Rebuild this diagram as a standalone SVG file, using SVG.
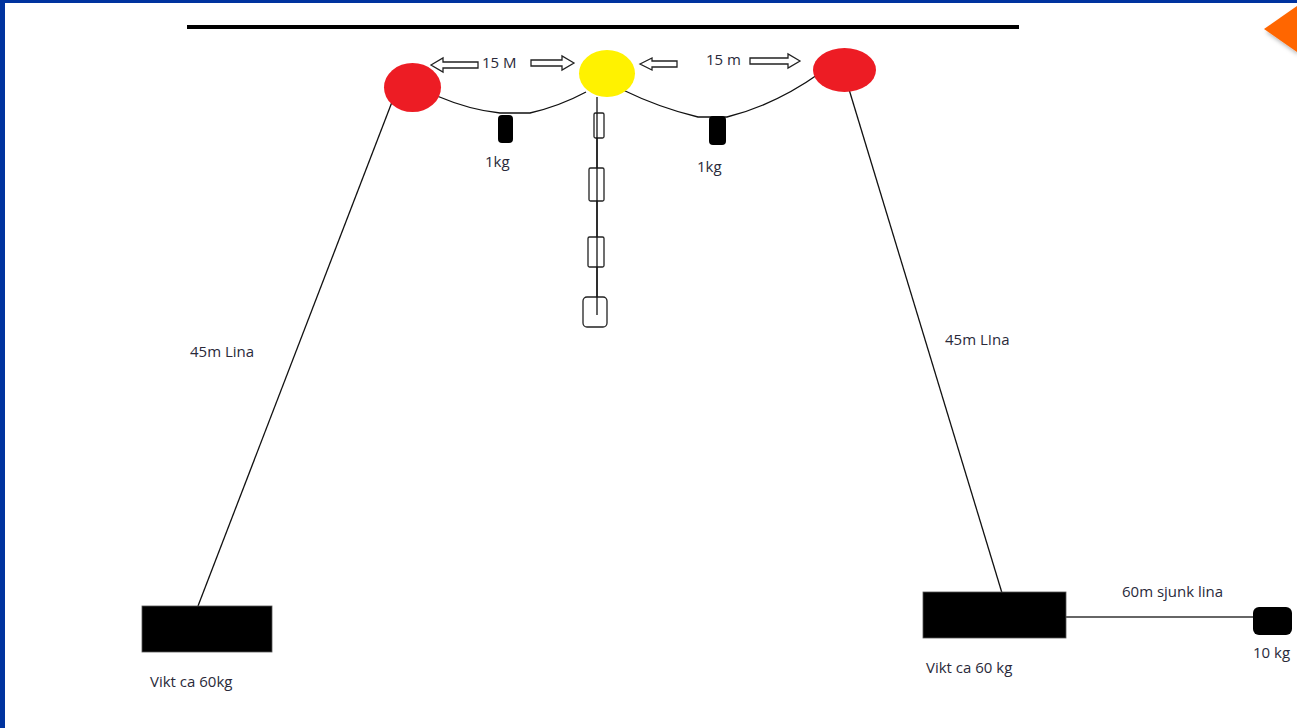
<svg xmlns="http://www.w3.org/2000/svg" width="1297" height="728" viewBox="0 0 1297 728">
<defs>
<style>
.t{font-family:"Open Sans","Liberation Sans",sans-serif;font-size:15px;fill:#2a2a3a}
.ln{stroke:#111;stroke-width:1.3;fill:none}
.wt{fill:#000}
.arr{fill:#fff;stroke:#222;stroke-width:1.3}
.link{fill:#fff;stroke:#222;stroke-width:1.3}
</style>
<filter id="sh" x="-50%" y="-50%" width="200%" height="200%"><feDropShadow dx="2" dy="3" stdDeviation="2" flood-color="#000" flood-opacity="0.3"/></filter>
</defs>
<rect x="0" y="0" width="1297" height="728" fill="#fff"/>
<rect x="0" y="0" width="1297" height="3" fill="#00339f"/>
<rect x="0" y="0" width="5" height="728" fill="#00339f"/>
<polygon points="1264,29 1297,6 1297,52" fill="#ff6600" filter="url(#sh)"/>
<rect x="187" y="25" width="832" height="4" fill="#000"/>

<g id="connectors">
<path class="ln" d="M437,96 Q470,110 500,113 L530,113 Q560,106 586,92"/>
<path class="ln" d="M623,90 Q660,108 698,117 L727,117 Q775,105 820,73"/>
<line class="ln" x1="392" y1="102" x2="198" y2="606"/>
<line class="ln" x1="848" y1="86" x2="1002" y2="593"/>
<line x1="1066" y1="617" x2="1254" y2="617" stroke="#333" stroke-width="1.6"/>
<line class="ln" x1="597" y1="97" x2="597" y2="315"/>
</g>

<g id="arrows">
<polygon class="arr" points="431,65 443,58 443,62 478,62 478,68 443,68 443,72"/>
<polygon class="arr" points="574,63 562,56 562,60 531,60 531,66 562,66 562,70"/>
<polygon class="arr" points="640,64 652,58 652,61 677,61 677,67 652,67 652,70"/>
<polygon class="arr" points="800,61 788,54 788,58 750,58 750,64 788,64 788,68"/>
<text class="t" x="482" y="68">15 M</text>
<text class="t" x="706" y="65">15 m</text>
</g>

<g id="buoy-left"><ellipse cx="412.5" cy="87.5" rx="28.5" ry="24.5" fill="#ed1c24"/></g>
<g id="buoy-center"><ellipse cx="607" cy="73.5" rx="28" ry="23.5" fill="#fff200"/></g>
<g id="buoy-right"><ellipse cx="844.5" cy="70" rx="31.5" ry="22" fill="#ed1c24"/></g>

<g id="weight-1kg-left">
<rect class="wt" x="498" y="115" width="15" height="28" rx="4"/>
<text class="t" x="485" y="167">1kg</text>
</g>
<g id="weight-1kg-right">
<rect class="wt" x="709" y="116" width="17" height="29" rx="4"/>
<text class="t" x="697" y="172">1kg</text>
</g>

<g id="chain">
<rect class="link" x="594" y="113" width="10" height="25" rx="1.5"/>
<rect class="link" x="589" y="168" width="15" height="33" rx="1.5"/>
<rect class="link" x="588" y="237" width="16" height="30" rx="1.5"/>
<rect class="link" x="583" y="297" width="24" height="30" rx="4"/>
<line class="ln" x1="597" y1="113" x2="597" y2="315"/>
</g>

<g id="label-left-line"><text class="t" x="190" y="357">45m Lina</text></g>
<g id="label-right-line"><text class="t" x="945" y="345">45m LIna</text></g>

<g id="anchor-left">
<rect x="142" y="606" width="130" height="46" fill="#000" stroke="#555" stroke-width="0.8"/>
<text class="t" x="150" y="687">Vikt ca 60kg</text>
</g>
<g id="anchor-right">
<rect x="923" y="592" width="143" height="46" fill="#000" stroke="#555" stroke-width="0.8"/>
<text class="t" x="926" y="673">Vikt ca 60 kg</text>
</g>
<g id="sinker">
<rect class="wt" x="1253" y="607" width="39" height="28" rx="6"/>
<text class="t" x="1253" y="658">10 kg</text>
</g>
<g id="label-sink"><text class="t" x="1122" y="597">60m sjunk lina</text></g>
</svg>
